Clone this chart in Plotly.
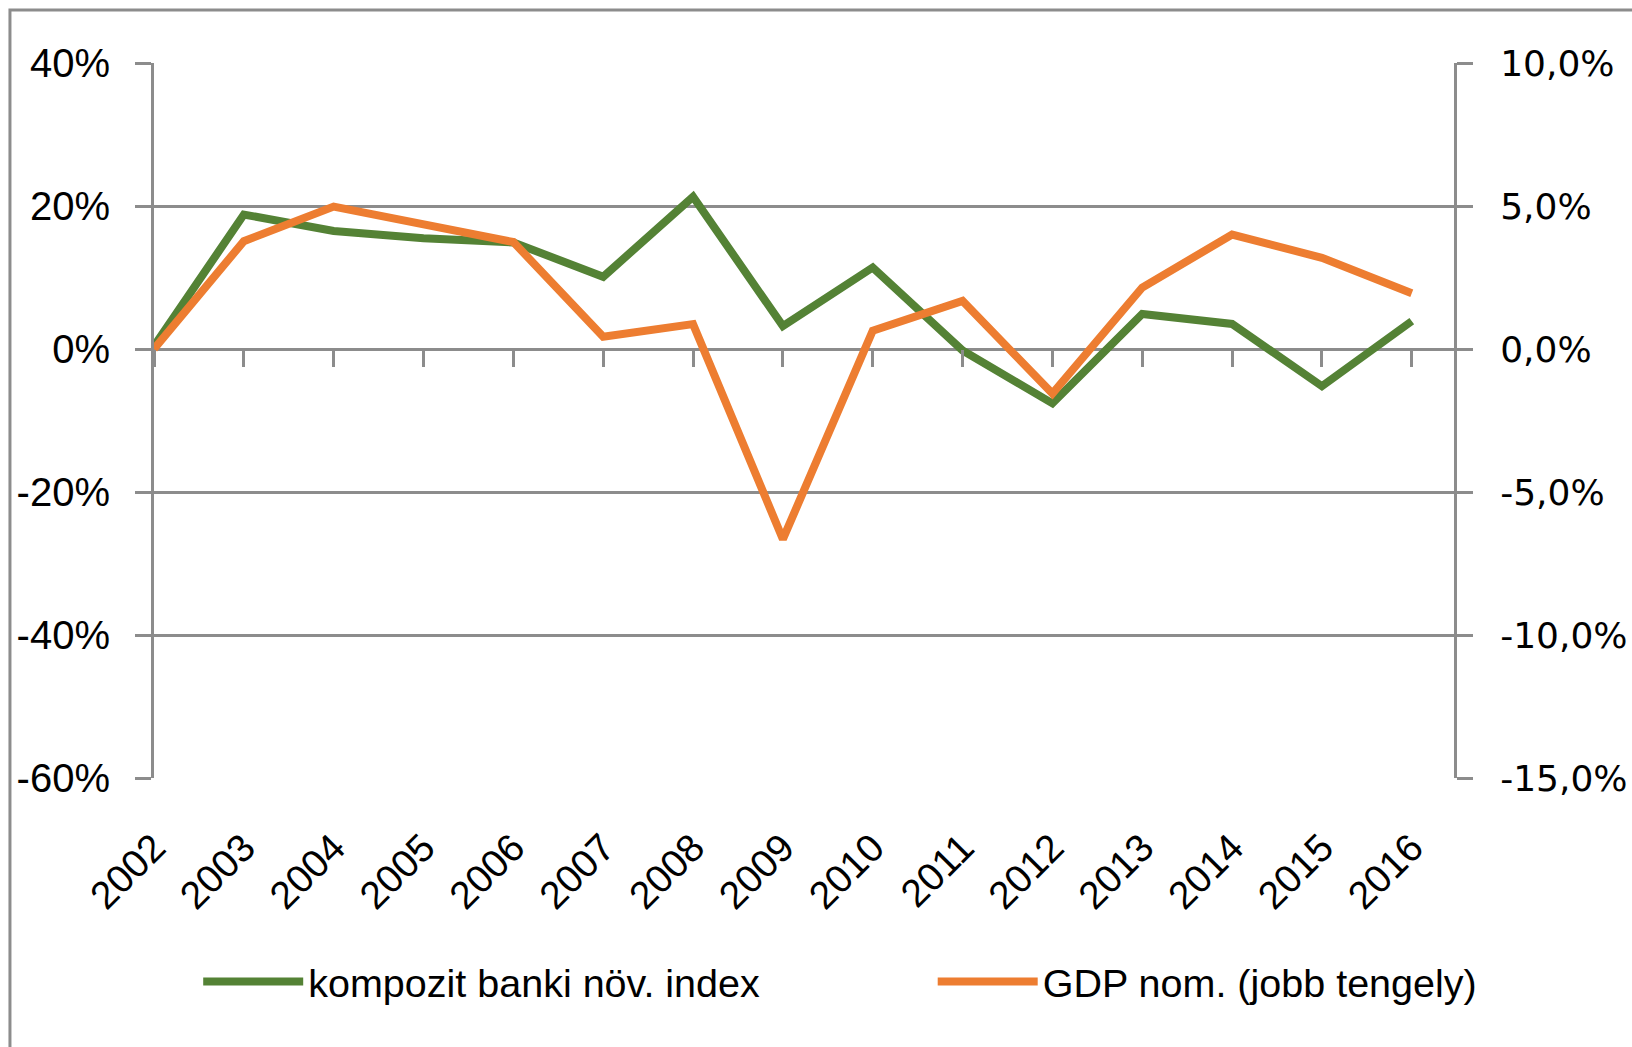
import plotly.graph_objects as go

years = ["2002", "2003", "2004", "2005", "2006", "2007", "2008", "2009",
         "2010", "2011", "2012", "2013", "2014", "2015", "2016"]
bank_index = [0.4, 18.8, 16.5, 15.5, 14.9, 10.1, 21.3, 3.2, 11.4, -0.2,
              -7.6, 4.9, 3.5, -5.2, 3.9]
gdp_nom = [0.0, 3.77, 4.98, 4.33, 3.74, 0.43, 0.87, -6.65, 0.64, 1.68,
           -1.56, 2.15, 4.0, 3.19, 1.95]

left_tickvals = [-60, -40, -20, 0, 20, 40]
left_ticktext = ["-60%", "-40%", "-20%", "0%", "20%", "40%"]
right_tickvals = [-15, -10, -5, 0, 5, 10]
right_ticktext = ["-15,0%", "-10,0%", "-5,0%", "0,0%", "5,0%", "10,0%"]

series_names = ["kompozit banki növ. index", "GDP nom. (jobb tengely)"]
GREEN = "#548235"
ORANGE = "#ED7D31"
GRID = "#8c8c8c"

fig = go.Figure()
fig.add_trace(go.Scatter(x=years, y=bank_index, mode="lines", name=series_names[0],
                         line=dict(color=GREEN, width=8), xaxis="x", yaxis="y",
                         legend="legend"))
fig.add_trace(go.Scatter(x=years, y=gdp_nom, mode="lines", name=series_names[1],
                         line=dict(color=ORANGE, width=8), xaxis="x", yaxis="y2",
                         legend="legend2"))
# empty helper trace so the category-axis tick marks can sit on the 0% line
fig.add_trace(go.Scatter(x=years, y=[None] * len(years), mode="lines",
                         showlegend=False, hoverinfo="skip", xaxis="x2", yaxis="y"))

xr = [0, 14.47]
legend_font = dict(size=39.5)
fig.update_layout(
    width=1632, height=1047,
    margin=dict(l=154, r=178, t=63, b=269, autoexpand=False),
    paper_bgcolor="white", plot_bgcolor="white",
    font=dict(family="Liberation Sans, Arial, sans-serif", color="black", size=38),
    xaxis=dict(type="category", categoryorder="array", categoryarray=years,
               range=xr, showgrid=False, zeroline=False, showline=False,
               ticks="outside", ticklen=30, tickcolor="rgba(0,0,0,0)",
               tickangle=-45, tickfont=dict(size=39)),
    xaxis2=dict(type="category", categoryorder="array", categoryarray=years,
                overlaying="x", anchor="free", position=0.6,
                range=xr, showticklabels=False,
                ticks="outside", ticklen=17, tickwidth=3, tickcolor=GRID,
                showgrid=False, zeroline=False, showline=False, side="bottom"),
    yaxis=dict(range=[-60, 40], tickvals=left_tickvals, ticktext=left_ticktext,
               showgrid=True, gridcolor=GRID, gridwidth=3, zeroline=False,
               showline=True, linecolor=GRID, linewidth=3,
               ticks="outside", ticklen=16, tickwidth=3, tickcolor=GRID,
               ticklabelstandoff=17, tickfont=dict(size=40)),
    yaxis2=dict(range=[-15, 10], tickvals=right_tickvals, ticktext=right_ticktext,
                overlaying="y", side="right", showgrid=False, zeroline=False,
                showline=True, linecolor=GRID, linewidth=3,
                ticks="outside", ticklen=16, tickwidth=3, tickcolor=GRID,
                ticklabelstandoff=20,
                tickfont=dict(family="DejaVu Sans, sans-serif", size=36)),
    legend=dict(orientation="h", x=0.034, xanchor="left", y=-0.285, yanchor="middle",
                font=legend_font, itemwidth=100, bgcolor="rgba(0,0,0,0)"),
    legend2=dict(orientation="h", x=0.599, xanchor="left", y=-0.285, yanchor="middle",
                 font=legend_font, itemwidth=100, bgcolor="rgba(0,0,0,0)"),
    shapes=[dict(type="rect", xref="paper", yref="paper", x0=-0.1108, x1=1.3,
                 y0=-0.6, y1=1.074, line=dict(color=GRID, width=3),
                 fillcolor="rgba(0,0,0,0)", layer="below")],
)

fig.write_html("out.html", config={"displayModeBar": False},
               post_script="document.body.style.margin='0';")
